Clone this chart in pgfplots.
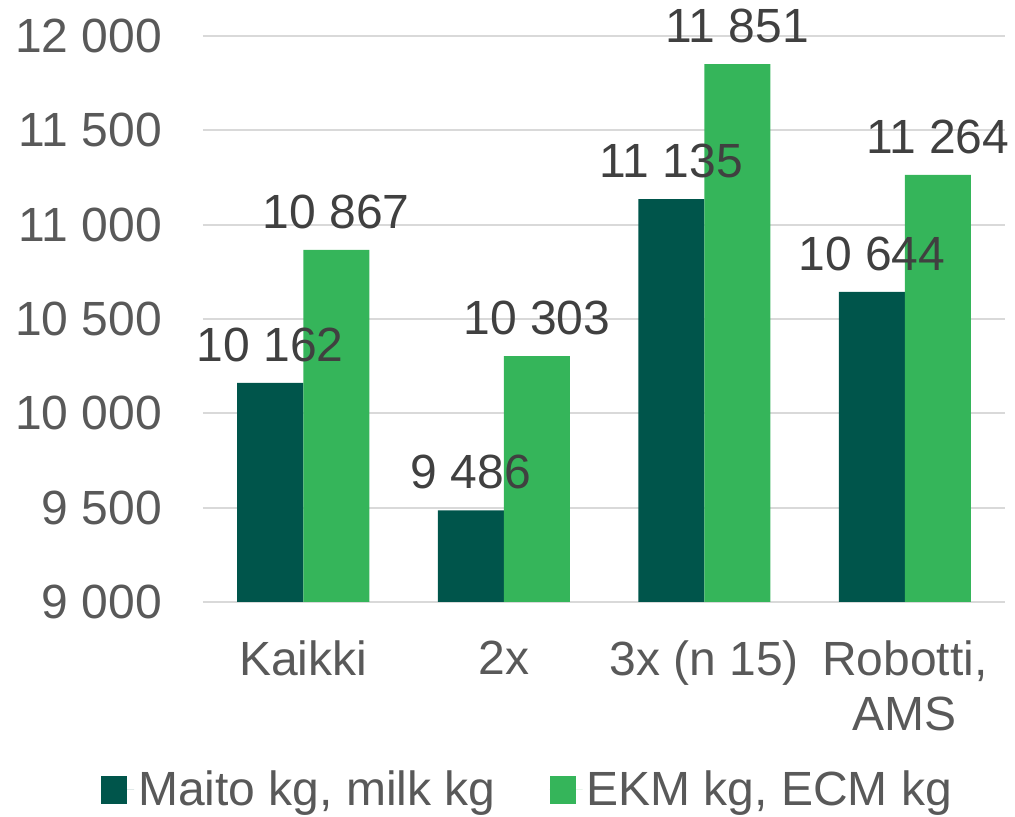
\documentclass[border=0pt]{standalone}
\usepackage{pgfplots}
\pgfplotsset{compat=1.18}
\usepackage{fontspec}
\setmainfont{Liberation Sans}
\definecolor{dk}{HTML}{00554B}
\definecolor{lt}{HTML}{35B55A}
\definecolor{txt}{HTML}{595959}
\definecolor{lbl}{HTML}{404040}
\definecolor{grd}{HTML}{D9D9D9}
\newcommand{\bigf}{\fontsize{24}{27.5}\selectfont}
\begin{document}
\begin{tikzpicture}
\path[use as bounding box] (-101.5pt,-107.5pt) rectangle (406pt,301pt);
\begin{axis}[
  at={(0pt,0pt)}, anchor=south west,
  scale only axis, width=401pt, height=283pt,
  xmin=-0.5, xmax=3.5, ymin=9000, ymax=12000,
  ytick={9000,9500,...,12000},
  scaled y ticks=false,
  xtick={0,1,2,3},
  xticklabels={Kaikki, 2x, 3x (n 15), {Robotti,\\AMS}},
  xticklabel style={align=center, yshift=-16pt},
  yticklabel style={xshift=-17pt, /pgf/number format/fixed},
  /pgf/number format/1000 sep={\ },
  /pgf/number format/assume math mode=true,
  ymajorgrids, grid style={grd, line width=1pt},
  axis line style={draw=none},
  major tick length=0pt,
  tick label style={font=\bigf, text=txt},
  ybar=0pt, bar width=33pt,
  nodes near coords,
  nodes near coords style={font=\bigf, text=lbl, yshift=7pt, /pgf/number format/fixed},
  legend style={at={(0.406,-0.332)}, anchor=center, draw=none, legend columns=2,
    font=\bigf, text=txt, /tikz/every even column/.append style={column sep=25pt}},
  legend image code/.code={\fill[#1, draw=none] (0pt,-7pt) rectangle (13pt,7pt); \path (0pt,0pt) -- (16.5pt,0pt);},
]
\addplot[fill=dk, draw=none] coordinates {(0,10162) (1,9486) (2,11135) (3,10644)};
\addlegendentry{Maito kg, milk kg}
\addplot[fill=lt, draw=none] coordinates {(0,10867) (1,10303) (2,11851) (3,11264)};
\addlegendentry{EKM kg, ECM kg}
\end{axis}
\end{tikzpicture}
\end{document}
